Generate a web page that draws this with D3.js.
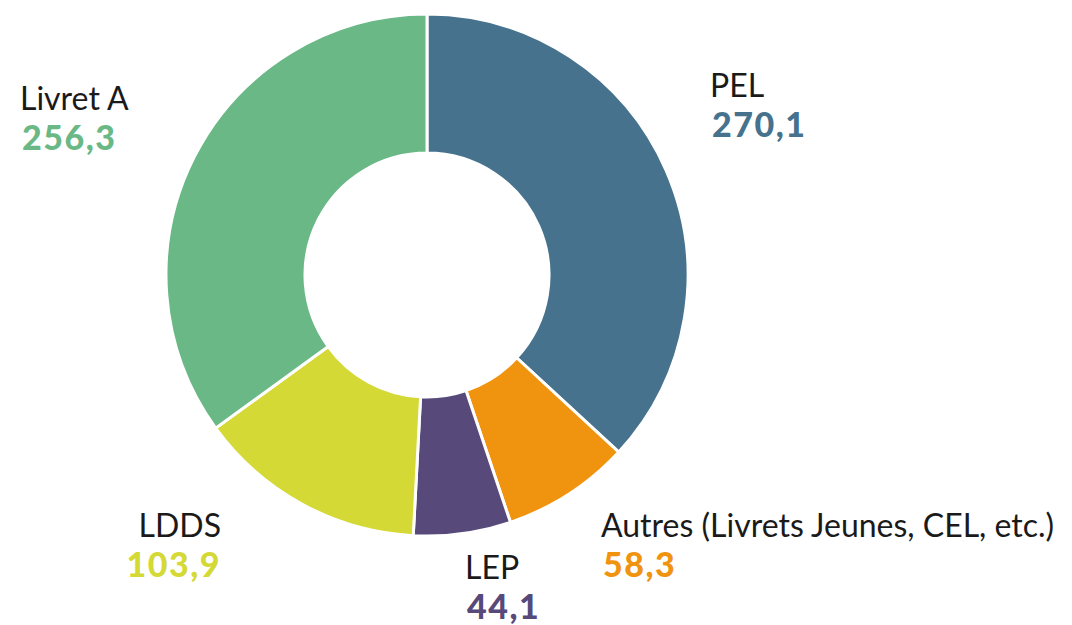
<!DOCTYPE html>
<html>
<head>
<meta charset="utf-8">
<script src="https://cdn.jsdelivr.net/npm/d3@7"></script>
<style>
  body { margin: 0; background: #fff; }
  svg { display: block; }
  .name { font-family: Lato, sans-serif; font-size: 32px; fill: #1a1a1a; }
  .amount { font-family: Lato, sans-serif; font-size: 34px; font-weight: 900; letter-spacing: 1.5px; }
</style>
</head>
<body>
<svg id="chart" width="1072" height="625"></svg>
<script>
// Encours par produit d'épargne réglementée (Md€)
var categories = ["PEL", "Autres (Livrets Jeunes, CEL, etc.)", "LEP", "LDDS", "Livret A"];
var values     = [270.1, 58.3, 44.1, 103.9, 256.3];
var colors     = ["#46728d", "#f0930f", "#574a7a", "#d4d935", "#6ab886"];

var svg    = d3.select("#chart");
var cx = 427, cy = 275;
var outerR = 261, innerR = 122;

var color = d3.scaleOrdinal().domain(categories).range(colors);

var pie = d3.pie().sort(null).value(function(d) { return d.value; });
var arcs = pie(categories.map(function(c, i) { return { name: c, value: values[i] }; }));

var arc = d3.arc().innerRadius(innerR).outerRadius(outerR);

var g = svg.append("g").attr("transform", "translate(" + cx + "," + cy + ")");
g.selectAll("path")
  .data(arcs)
  .enter().append("path")
  .attr("d", arc)
  .attr("fill", function(d) { return color(d.data.name); })
  .attr("stroke", "#fff")
  .attr("stroke-width", 3)
  .attr("stroke-linejoin", "round");

// label placement (anchor point, alignment) per slice
var labelPos = {
  "PEL":      { x: 710, y: 97,  anchor: "start" },
  "Autres (Livrets Jeunes, CEL, etc.)": { x: 601, y: 537, anchor: "start" },
  "LEP":      { x: 465, y: 579, anchor: "start" },
  "LDDS":     { x: 221, y: 537, anchor: "end" },
  "Livret A": { x: 20,  y: 110, anchor: "start" }
};
var fmt = function(v) { return d3.format(".1f")(v).replace(".", ","); };

var lab = svg.selectAll("g.label")
  .data(arcs)
  .enter().append("g")
  .attr("class", "label")
  .attr("transform", function(d) { var p = labelPos[d.data.name]; return "translate(" + p.x + "," + p.y + ")"; });
lab.append("text")
  .attr("class", "name")
  .attr("text-anchor", function(d) { return labelPos[d.data.name].anchor; })
  .text(function(d) { return d.data.name; });
lab.append("text")
  .attr("class", "amount")
  .attr("x", function(d) { return labelPos[d.data.name].anchor == "start" ? 2 : 0; })
  .attr("y", 40)
  .attr("text-anchor", function(d) { return labelPos[d.data.name].anchor; })
  .attr("fill", function(d) { return color(d.data.name); })
  .text(function(d) { return fmt(d.data.value); });
</script>
</body>
</html>
